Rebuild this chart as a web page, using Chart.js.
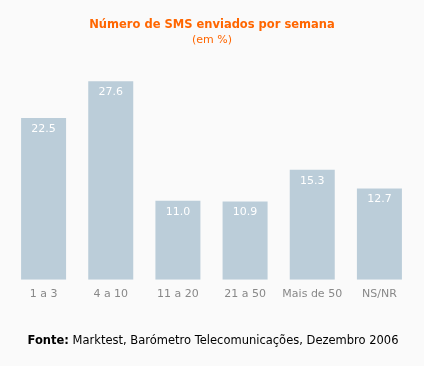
<!DOCTYPE html>
<html>
<head>
<meta charset="utf-8">
<script src="https://cdn.jsdelivr.net/npm/chart.js@4"></script>
<style>
  html, body { margin: 0; padding: 0; background: #fafafa; }
  canvas { display: block; }
</style>
</head>
<body>
<canvas id="smsChart" width="424" height="366"></canvas>
<script>
const categories = ['1 a 3', '4 a 10', '11 a 20', '21 a 50', 'Mais de 50', 'NS/NR'];
const percentages = [22.5, 27.6, 11.0, 10.9, 15.3, 12.7];

const titleText = 'Número de SMS enviados por semana';
const subtitleText = '(em %)';
const sourceLabel = 'Fonte:';
const sourceText = ' Marktest, Barómetro Telecomunicações, Dezembro 2006';

const FONT = '"DejaVu Sans", Verdana, sans-serif';

// draws titles, footer and the value inside each bar
const extrasPlugin = {
    id: 'extras',
    beforeDraw(chart) {
        const ctx = chart.ctx;
        ctx.save();
        ctx.fillStyle = '#fafafa';
        ctx.fillRect(0, 0, chart.width, chart.height);
        ctx.restore();
    },
    afterDraw(chart) {
        const ctx = chart.ctx;
        ctx.save();
        ctx.textAlign = 'center';
        ctx.textBaseline = 'middle';
        ctx.fillStyle = '#ff6600';
        ctx.font = 'bold 11.5px ' + FONT;
        ctx.fillText(titleText, 212, 25);
        ctx.font = '11px ' + FONT;
        ctx.fillText(subtitleText, 212, 40);

        // footer, "Fonte:" in bold
        ctx.font = 'bold 11.5px ' + FONT;
        const w1 = ctx.measureText(sourceLabel).width;
        ctx.font = '11.5px ' + FONT;
        const w2 = ctx.measureText(sourceText).width;
        let x = 213 - (w1 + w2) / 2;
        ctx.textAlign = 'left';
        ctx.fillStyle = '#000';
        ctx.font = 'bold 11.5px ' + FONT;
        ctx.fillText(sourceLabel, x, 341);
        ctx.font = '11.5px ' + FONT;
        ctx.fillText(sourceText, x + w1, 341);

        // values inside bars
        ctx.textAlign = 'center';
        ctx.fillStyle = '#fff';
        ctx.font = '11px ' + FONT;
        chart.getDatasetMeta(0).data.forEach((bar, i) => {
            ctx.fillText(percentages[i].toFixed(1), bar.x, bar.y + 11);
        });
        ctx.restore();
    }
};

new Chart(document.getElementById('smsChart').getContext('2d'), {
    type: 'bar',
    data: {
        labels: categories,
        datasets: [{
            data: percentages,
            backgroundColor: '#bbcdd9',
            barPercentage: 0.67,
            categoryPercentage: 1.0
        }]
    },
    options: {
        responsive: false,
        animation: false,
        layout: {padding: {left: 10, right: 11, top: 64, bottom: 65}},
        plugins: {
            legend: {display: false},
            title: {display: false},
            tooltip: {enabled: false}
        },
        scales: {
            x: {
                grid: {display: false},
                border: {display: false},
                ticks: {color: '#888', font: {family: FONT, size: 11}, padding: 0}
            },
            y: {
                display: false,
                min: 0,
                max: 30
            }
        }
    },
    plugins: [extrasPlugin]
});
</script>
</body>
</html>
